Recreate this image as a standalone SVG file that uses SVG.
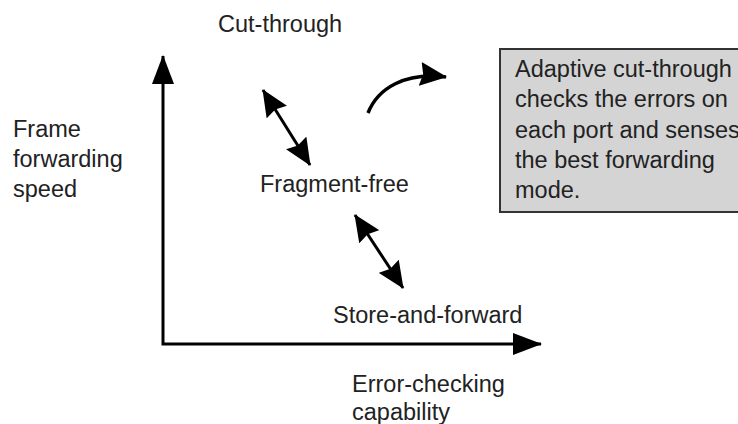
<svg xmlns="http://www.w3.org/2000/svg" width="738" height="424" viewBox="0 0 738 424">
<style>
text{font-family:"Liberation Sans",Arial,sans-serif;font-size:23.5px;fill:#222}
.ln{fill:none;stroke:#000;stroke-width:3}
</style>
<defs>
<marker id="ah" viewBox="0 0 29 22" refX="28" refY="11" markerWidth="29" markerHeight="22" markerUnits="userSpaceOnUse" orient="auto-start-reverse">
<path d="M0,0 L29,11 L0,22 z" fill="#000"/>
</marker>
<marker id="dh" viewBox="0 0 27 24" refX="26" refY="12" markerWidth="27" markerHeight="24" markerUnits="userSpaceOnUse" orient="auto-start-reverse">
<path d="M0,0 L27,12 L0,24 L3,12 z" fill="#000"/>
</marker>
</defs>
<rect width="738" height="424" fill="#fff"/>
<g id="connectors">
<path class="ln" d="M163,56 L163,344 L541,344" marker-start="url(#ah)" marker-end="url(#ah)"/>
<path class="ln" d="M263,90 L310,165" marker-start="url(#dh)" marker-end="url(#dh)"/>
<path class="ln" d="M355,215 L403,288" marker-start="url(#dh)" marker-end="url(#dh)"/>
<path class="ln" style="stroke-width:3.5" d="M368,113 C378,88 405,72 446,77" marker-end="url(#dh)"/>
</g>
<g id="cut-through"><text x="218" y="32">Cut-through</text></g>
<g id="frame-speed"><text x="13" y="137">Frame</text><text x="13" y="167">forwarding</text><text x="13" y="197">speed</text></g>
<g id="fragment-free"><text x="260" y="192">Fragment-free</text></g>
<g id="store-and-forward"><text x="333" y="323">Store-and-forward</text></g>
<g id="error-checking"><text x="352" y="392">Error-checking</text><text x="352" y="420">capability</text></g>
<g id="adaptive-note">
<rect x="500" y="49" width="260" height="163" fill="#d4d4d4" stroke="#333" stroke-width="2"/>
<text x="515" y="77">Adaptive cut-through</text>
<text x="515" y="107">checks the errors on</text>
<text x="515" y="138">each port and senses</text>
<text x="515" y="168">the best forwarding</text>
<text x="515" y="198">mode.</text>
</g>
</svg>
